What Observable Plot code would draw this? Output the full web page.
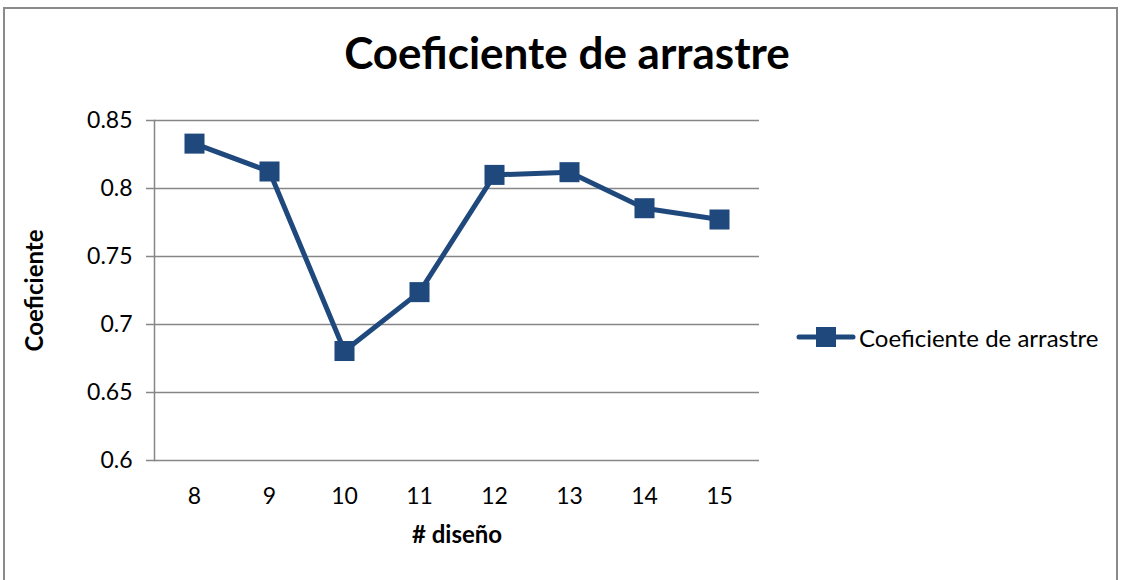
<!DOCTYPE html>
<html>
<head>
<meta charset="utf-8">
<script src="https://cdn.jsdelivr.net/npm/d3@7"></script>
<script src="https://cdn.jsdelivr.net/npm/@observablehq/plot@0.6"></script>
<style>
  body { margin: 0; overflow: hidden; background: #fff; font-family: Lato, "Open Sans", sans-serif; }
  #wrap { position: relative; width: 1123px; height: 580px; }
  #border { position: absolute; left: 3px; top: 7px; width: 1115px; height: 620px; border: 2px solid #8a8a8a; box-sizing: border-box; }
  #chart { position: absolute; left: 0; top: 0; }
  #legend { position: absolute; left: 795px; top: 322px; height: 30px; display: flex; align-items: center; font-size: 24px; color: #000; }
  #legend svg { margin-right: 2px; }
</style>
</head>
<body>
<div id="wrap">
  <div id="border"></div>
  <div id="chart"></div>
  <div id="legend"></div>
</div>
<script>
// Drag coefficient per design number
const designs = [8, 9, 10, 11, 12, 13, 14, 15];
const dragCoef = [0.833, 0.8125, 0.6805, 0.7238, 0.810, 0.812, 0.7855, 0.7772];
const yTicks = [0.6, 0.65, 0.7, 0.75, 0.8, 0.85];

const seriesName = "Coeficiente de arrastre";
const titleText = "Coeficiente de arrastre";
const xLabel = "# diseño";
const yLabel = "Coeficiente";

const lineColor = "#1F497D";
const gridColor = "#868686";

const data = designs.map((d, i) => ({design: d, value: dragCoef[i]}));

const chart = Plot.plot({
  width: 1123,
  height: 580,
  marginLeft: 154,
  marginRight: 364,
  marginTop: 120,
  marginBottom: 120,
  style: {fontFamily: "Lato, 'Open Sans', sans-serif", fontSize: "23px", color: "#000", background: "transparent"},
  x: {type: "point", domain: designs, padding: 0.5},
  y: {domain: [0.6, 0.85]},
  marks: [
    Plot.gridY(yTicks, {stroke: gridColor, strokeOpacity: 1, strokeWidth: 1.5}),
    Plot.frame({anchor: "left", stroke: gridColor, strokeWidth: 1.5}),
    Plot.axisY({ticks: yTicks, tickFormat: d => String(d), tickSize: 8, tickPadding: 14,
                stroke: gridColor, strokeWidth: 1.5, label: null, fontSize: 23}),
    Plot.axisX({tickSize: 0, tickPadding: 27, label: null, fontSize: 23}),
    Plot.line(data, {x: "design", y: "value", stroke: lineColor, strokeWidth: 5}),
    Plot.dot(data, {x: "design", y: "value", symbol: "square", r: 11.3, fill: lineColor, stroke: "none"}),
    Plot.text([titleText], {frameAnchor: "top", lineAnchor: "bottom", dy: -52, dx: 110,
                            fontSize: 44, fontWeight: "bold"}),
    Plot.text([xLabel], {frameAnchor: "bottom", lineAnchor: "bottom", dy: 82,
                         fontSize: 24, fontWeight: "bold"}),
    Plot.text([yLabel], {frameAnchor: "left", textAnchor: "middle", lineAnchor: "bottom",
                         dx: -112, rotate: -90, fontSize: 24, fontWeight: "bold"})
  ]
});
document.getElementById("chart").appendChild(chart);

// Legend: line swatch with square marker, then series name
const legend = document.getElementById("legend");
legend.innerHTML =
  `<svg width="62" height="30"><line x1="4" y1="15" x2="58" y2="15" stroke="${lineColor}" stroke-width="5" stroke-linecap="round"/>` +
  `<rect x="21" y="5" width="20" height="20" fill="${lineColor}"/></svg><span>${seriesName}</span>`;
</script>
</body>
</html>
